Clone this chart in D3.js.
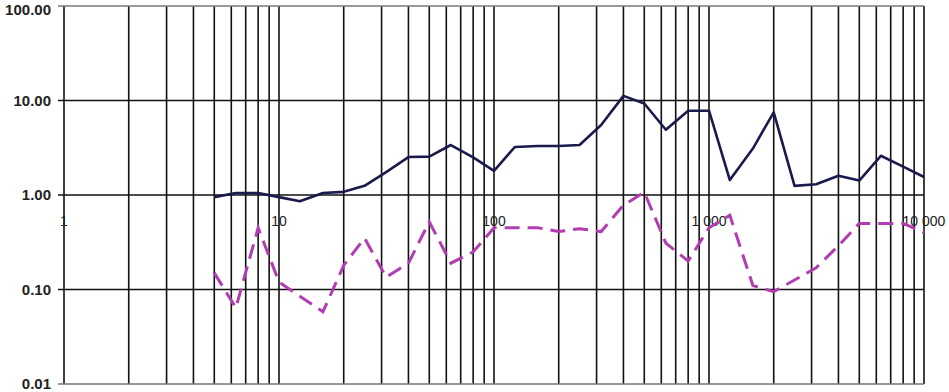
<!DOCTYPE html>
<html>
<head>
<meta charset="utf-8">
<script src="https://cdn.jsdelivr.net/npm/d3@7"></script>
<style>
  body { margin: 0; background: #fff; }
  svg { display: block; font-family: "Liberation Sans", Arial, sans-serif; }
</style>
</head>
<body>
<div class="d3"></div>
<script>
'use strict';

// 1/3 octave bands
const freqs = [5, 6.3, 8, 10, 12.5, 16, 20, 25, 31.5, 40, 50, 63, 80, 100, 125, 160, 200, 250,
  315, 400, 500, 630, 800, 1000, 1250, 1600, 2000, 2500, 3150, 4000, 5000, 6300, 8000, 10000];
const solidVals = [0.95, 1.05, 1.05, 0.95, 0.86, 1.05, 1.08, 1.25, 1.75, 2.52, 2.55, 3.38, 2.5, 1.8,
  3.22, 3.3, 3.3, 3.38, 5.5, 11.2, 9.3, 4.9, 7.8, 7.8, 1.44, 3.1, 7.5, 1.25, 1.3, 1.6, 1.42, 2.6, 2.0, 1.55];
const dashedVals = [0.15, 0.064, 0.45, 0.12, 0.085, 0.058, 0.18, 0.35, 0.135, 0.19, 0.52, 0.19, 0.25, 0.45,
  0.45, 0.45, 0.41, 0.44, 0.41, 0.78, 1.07, 0.31, 0.2, 0.45, 0.61, 0.11, 0.095, 0.126, 0.17, 0.29, 0.5, 0.5, 0.5, 0.4];
const yTicks = [0.01, 0.1, 1, 10, 100];
const xTicks = [1, 10, 100, 1000, 10000];
const xTickLabels = ['1', '10', '100', '1 000', '10 000'];

const colors = {
  navy: '#1a1a4c',
  magenta: '#b23db2',
  grid: '#111'
};

function drawChart() {
  const width = 949, height = 392;
  const x = d3.scaleLog().domain([1, 10000]).range([64, 924]);
  const y = d3.scaleLog().domain([0.01, 100]).range([384, 6]);

  const svg = d3.select('.d3').append('svg')
    .attr('width', width)
    .attr('height', height);

  // vertical grid at every 1..9 per decade
  svg.append('g')
    .selectAll('line')
    .data(x.ticks())
    .enter()
    .append('line')
    .attr('x1', d => x(d)).attr('x2', d => x(d))
    .attr('y1', y(100)).attr('y2', y(0.01))
    .attr('stroke', colors.grid)
    .attr('stroke-width', 1.6);

  // horizontal lines at the decades
  svg.append('g')
    .selectAll('line')
    .data(yTicks)
    .enter()
    .append('line')
    .attr('x1', x(1) - 6).attr('x2', x(10000))
    .attr('y1', d => y(d)).attr('y2', d => y(d))
    .attr('stroke', d => (d === 100 || d === 0.01) ? '#777' : colors.grid)
    .attr('stroke-width', 1.5);

  // y labels (top one nudged down so it is not clipped)
  svg.append('g')
    .selectAll('text')
    .data(yTicks)
    .enter()
    .append('text')
    .attr('x', 51)
    .attr('y', d => Math.max(y(d), 10))
    .attr('dy', '0.36em')
    .attr('text-anchor', 'end')
    .attr('font-size', 15)
    .attr('font-weight', 'bold')
    .attr('fill', '#222')
    .text(d => d3.format('.2f')(d));

  // x labels sit under the 1.00 line
  svg.append('g')
    .selectAll('text')
    .data(xTicks)
    .enter()
    .append('text')
    .attr('x', d => x(d))
    .attr('y', y(1) + 31)
    .attr('text-anchor', 'middle')
    .attr('font-size', 14)
    .attr('fill', '#222')
    .text((d, i) => xTickLabels[i]);

  const line = d3.line()
    .x(d => x(d[0]))
    .y(d => y(d[1]));

  svg.append('path')
    .datum(d3.zip(freqs, dashedVals))
    .attr('d', line)
    .attr('fill', 'none')
    .attr('stroke', colors.magenta)
    .attr('stroke-width', 3)
    .attr('stroke-dasharray', '15,8');

  svg.append('path')
    .datum(d3.zip(freqs, solidVals))
    .attr('d', line)
    .attr('fill', 'none')
    .attr('stroke', colors.navy)
    .attr('stroke-width', 2.6)
    .attr('stroke-linejoin', 'round');
}

drawChart();
</script>
</body>
</html>
